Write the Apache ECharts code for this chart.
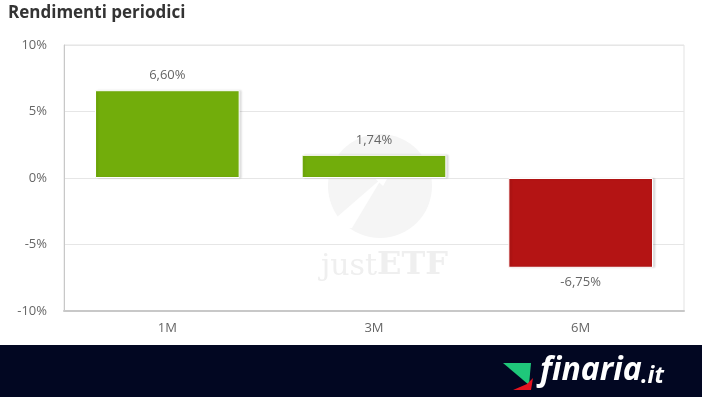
<!DOCTYPE html>
<html>
<head>
<meta charset="utf-8">
<script src="https://cdn.jsdelivr.net/npm/echarts@6/dist/echarts.min.js"></script>
<style>
  html, body { margin: 0; padding: 0; background: #fff; }
  #chart { width: 702px; height: 397px; }
</style>
</head>
<body>
<div id="chart"></div>
<script>
var periodi = ['1M', '3M', '6M'];
var rendimenti = [6.60, 1.74, -6.75];
var yTicks = [-10, 10, 5];  // min, max, interval

var chartDom = document.getElementById('chart');
var myChart = echarts.init(chartDom);

// verde per positivi, rosso per negativi
var barData = rendimenti.map(function (v) {
    return {
        value: v,
        itemStyle: { color: v >= 0 ? '#72ad0b' : '#b41414' },
        label: { position: v >= 0 ? 'top' : 'bottom' }
    };
});

var option = {
    backgroundColor: '#fff',
    animation: false,
    title: {
        text: 'Rendimenti periodici',
        left: 3,
        top: 0,
        textStyle: { fontFamily: 'Open Sans', fontSize: 17, fontWeight: 'bold', color: '#333' }
    },
    grid: {
        left: 64, right: 18, top: 45, bottom: 86,
        show: true,
        borderColor: '#e3e3e3',
        borderWidth: 1
    },
    xAxis: {
        type: 'category',
        data: periodi,
        axisLine: { onZero: false, lineStyle: { color: '#c8c8c8', width: 2 } },
        axisTick: { show: false },
        axisLabel: { color: '#666', fontFamily: 'Open Sans', fontSize: 13, margin: 11 }
    },
    yAxis: {
        type: 'value',
        min: yTicks[0],
        max: yTicks[1],
        interval: yTicks[2],
        axisLine: { show: true, lineStyle: { color: '#c8c8c8', width: 1 } },
        axisTick: { show: false },
        splitLine: { lineStyle: { color: '#e6e6e6' } },
        axisLabel: {
            color: '#666', fontFamily: 'Open Sans', fontSize: 13, margin: 17,
            formatter: function (v) { return v + '%'; }
        }
    },
    series: [{
        type: 'bar',
        data: barData,
        barWidth: '70%',
        z: 3,
        itemStyle: {
            borderColor: '#fff',
            borderWidth: 1,
            shadowColor: 'rgba(0,0,0,0.12)',
            shadowBlur: 2,
            shadowOffsetX: 2,
            shadowOffsetY: 0
        },
        label: {
            show: true,
            distance: 8,
            color: '#666',
            fontFamily: 'Open Sans',
            fontSize: 13,
            formatter: function (p) { return p.value.toFixed(2).replace('.', ',') + '%'; }
        }
    }],
    graphic: [
        // filigrana justETF
        {
            type: 'group', z: 1, silent: true,
            children: [
                { type: 'circle', shape: { cx: 380, cy: 186, r: 52 }, style: { fill: '#f5f5f5' } },
                { type: 'polygon', shape: { points: [[322, 230], [382, 178], [352, 228]] }, style: { fill: '#fff' } },
                { type: 'polygon', shape: { points: [[366, 170], [392, 170], [383, 186]] }, style: { fill: '#fff' } },
                { type: 'text', left: 321, top: 252, style: { text: 'just', fill: '#efefef', font: '30px "DejaVu Serif", serif' } },
                { type: 'text', left: 377, top: 250, style: { text: 'ETF', fill: '#efefef', font: 'bold 32px "DejaVu Serif", serif' } }
            ]
        },
        // fascia finaria
        {
            type: 'rect', left: 0, top: 345, z: 10,
            shape: { width: 702, height: 52 },
            style: { fill: '#020722' }
        },
        {
            type: 'polygon', z: 11,
            shape: { points: [[503, 363], [531, 363], [529, 385]] },
            style: { fill: '#1fc77a' }
        },
        {
            type: 'polygon', z: 11,
            shape: { points: [[513, 390], [531, 390], [533, 378], [527, 384]] },
            style: { fill: '#e5141f' }
        },
        {
            type: 'text', left: 540, top: 355, z: 11,
            style: { text: 'finaria', fill: '#fff', font: 'italic bold 32px "Open Sans", sans-serif' }
        },
        {
            type: 'text', left: 641, top: 365, z: 11,
            style: { text: '.it', fill: '#fff', font: 'italic bold 23px "Open Sans", sans-serif' }
        }
    ]
};

myChart.setOption(option);
</script>
</body>
</html>
